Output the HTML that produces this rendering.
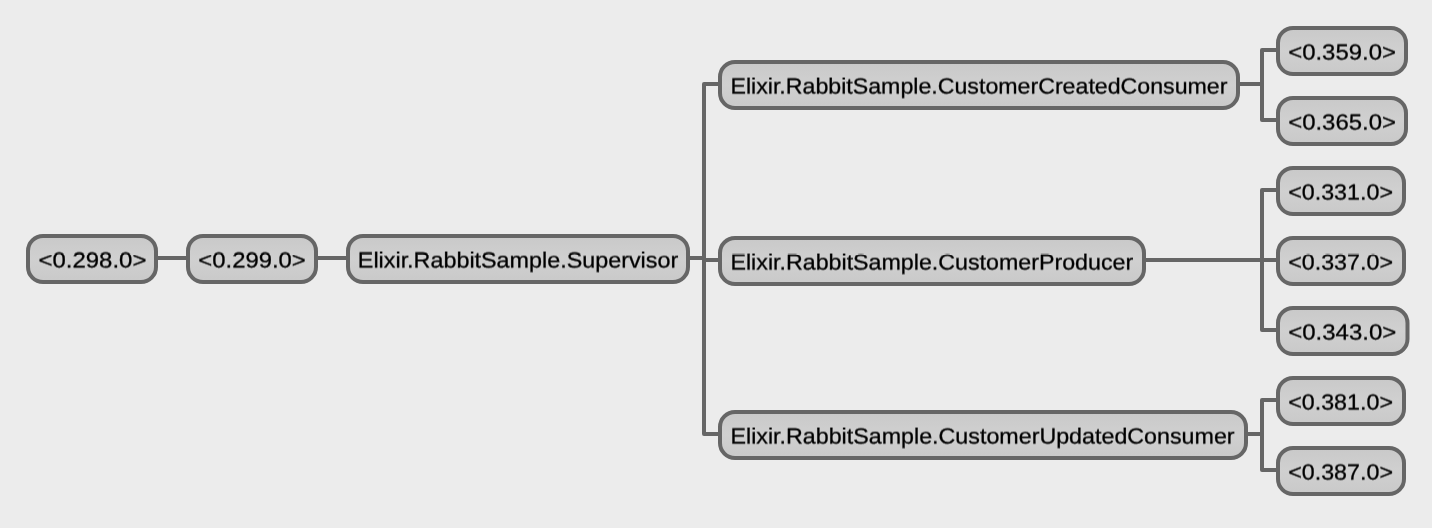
<!DOCTYPE html>
<html><head><meta charset="utf-8"><title>Process tree</title>
<style>
html,body{margin:0;padding:0;}
body{width:1432px;height:528px;background:#ececec;overflow:hidden;position:relative;font-family:"Liberation Sans",sans-serif;}
svg{position:absolute;left:0;top:0;will-change:transform;}
#tx{transform:translateY(-0.45px) rotate(0.003deg);}
text{font-family:"Liberation Sans",sans-serif;font-size:22.0px;fill:#000;stroke:#000;stroke-width:0.3px;text-rendering:geometricPrecision;}
</style></head><body>
<svg width="1432" height="528" viewBox="0 0 1432 528">
<defs><linearGradient id="g" x1="0" y1="0" x2="0" y2="1"><stop offset="0" stop-color="#c9c9c9"/><stop offset="0.5" stop-color="#d0d0d0"/><stop offset="1" stop-color="#c9c9c9"/></linearGradient></defs>
<path d="M158 258H186 M318 258H346 M690 258H704 M718 84H704V434H718 M704 260H718 M1240 84H1262 M1276 50H1262V120H1276 M1146 260H1276 M1276 190H1262V330H1276 M1248 434H1262 M1276 400H1262V470H1276" fill="none" stroke="#666666" stroke-width="4" stroke-linejoin="round"/>
<rect x="28" y="236" width="128" height="46" rx="15" ry="15" fill="url(#g)" stroke="#666666" stroke-width="4"/>
<rect x="188" y="236" width="128" height="46" rx="15" ry="15" fill="url(#g)" stroke="#666666" stroke-width="4"/>
<rect x="348" y="236" width="340" height="46" rx="15" ry="15" fill="url(#g)" stroke="#666666" stroke-width="4"/>
<rect x="720" y="62" width="518" height="46" rx="15" ry="15" fill="url(#g)" stroke="#666666" stroke-width="4"/>
<rect x="720" y="238" width="424" height="46" rx="15" ry="15" fill="url(#g)" stroke="#666666" stroke-width="4"/>
<rect x="720" y="412" width="526" height="46" rx="15" ry="15" fill="url(#g)" stroke="#666666" stroke-width="4"/>
<rect x="1278" y="28" width="128" height="46" rx="15" ry="15" fill="url(#g)" stroke="#666666" stroke-width="4"/>
<rect x="1278" y="98" width="128" height="46" rx="15" ry="15" fill="url(#g)" stroke="#666666" stroke-width="4"/>
<rect x="1278" y="168" width="126" height="46" rx="15" ry="15" fill="url(#g)" stroke="#666666" stroke-width="4"/>
<rect x="1278" y="238" width="126" height="46" rx="15" ry="15" fill="url(#g)" stroke="#666666" stroke-width="4"/>
<rect x="1278" y="308" width="129.5" height="46" rx="15" ry="15" fill="url(#g)" stroke="#666666" stroke-width="4"/>
<rect x="1278" y="378" width="126" height="46" rx="15" ry="15" fill="url(#g)" stroke="#666666" stroke-width="4"/>
<rect x="1278" y="448" width="126" height="46" rx="15" ry="15" fill="url(#g)" stroke="#666666" stroke-width="4"/>
</svg>
<svg id="tx" width="1432" height="528" viewBox="0 0 1432 528">
<text transform="translate(38.48 268.00) scale(1.0891 1)">&lt;0.298.0&gt;</text>
<text transform="translate(198.29 268.00) scale(1.0850 1)">&lt;0.299.0&gt;</text>
<text transform="translate(357.84 268.00) scale(1.0608 1)">Elixir.RabbitSample.Supervisor</text>
<text transform="translate(730.46 94.00) scale(1.0530 1)">Elixir.RabbitSample.CustomerCreatedConsumer</text>
<text transform="translate(730.45 270.00) scale(1.0558 1)">Elixir.RabbitSample.CustomerProducer</text>
<text transform="translate(730.45 444.00) scale(1.0572 1)">Elixir.RabbitSample.CustomerUpdatedConsumer</text>
<text transform="translate(1288.18 60.00) scale(1.0881 1)">&lt;0.359.0&gt;</text>
<text transform="translate(1288.18 130.00) scale(1.0881 1)">&lt;0.365.0&gt;</text>
<text transform="translate(1288.21 200.00) scale(1.0572 1)">&lt;0.331.0&gt;</text>
<text transform="translate(1288.21 270.00) scale(1.0572 1)">&lt;0.337.0&gt;</text>
<text transform="translate(1288.18 340.00) scale(1.0911 1)">&lt;0.343.0&gt;</text>
<text transform="translate(1288.21 410.00) scale(1.0572 1)">&lt;0.381.0&gt;</text>
<text transform="translate(1288.21 480.00) scale(1.0572 1)">&lt;0.387.0&gt;</text>
</svg>
</body></html>
